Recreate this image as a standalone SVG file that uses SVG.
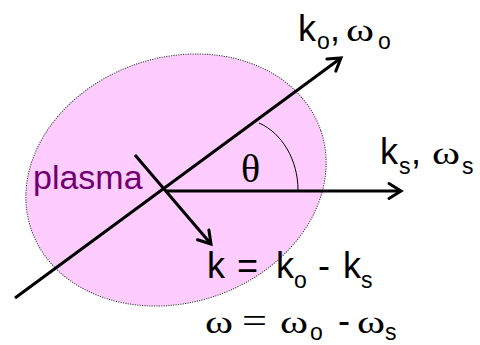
<svg xmlns="http://www.w3.org/2000/svg" width="480" height="345" viewBox="0 0 480 345">
<defs>
<marker id="arr" markerUnits="userSpaceOnUse" viewBox="-16 -10 20 20" markerWidth="20" markerHeight="20" refX="0" refY="0" orient="auto">
<path d="M-12,-7.5 L0,0 L-12,7.5" fill="none" stroke="#000" stroke-width="3" stroke-linecap="round" stroke-linejoin="miter"/>
</marker>
<style>
.sans{font-family:"Liberation Sans",Arial,sans-serif;fill:#000}
.ser{font-family:"Liberation Serif","Times New Roman",serif;fill:#000}
.big{font-size:36px}
.w{font-size:31px}
.sub{font-size:23px}
.ln{stroke:#000;stroke-width:3;fill:none}
</style>
</defs>
<rect width="480" height="345" fill="#fff"/>
<g id="plasma">
<ellipse cx="176" cy="180" rx="153" ry="122.5" transform="rotate(-18.8 176 180)" fill="#FFCCFF" stroke="#333" stroke-width="1" stroke-dasharray="1.2 1.2"/>
<text x="33" y="189" font-family="Liberation Sans, Arial, sans-serif" font-size="34" fill="#700070">plasma</text>
</g>
<g id="connectors">
<line class="ln" x1="15" y1="298" x2="341" y2="58" marker-end="url(#arr)"/>
<line class="ln" x1="165" y1="191" x2="401" y2="191" marker-end="url(#arr)"/>
<line class="ln" x1="135" y1="155" x2="211" y2="244" marker-end="url(#arr)"/>
<path d="M259,123 C282,133 298,160 298,190" fill="none" stroke="#000" stroke-width="1"/>
</g>
<g id="theta">
<text class="ser" x="241" y="182" font-size="40">θ</text>
</g>
<g id="label-ko">
<text class="sans big" x="298" y="41">k</text>
<text class="sans sub" x="317" y="49">o</text>
<text class="sans big" x="330" y="41">,</text>
<text class="ser w" x="346" y="41" textLength="28" lengthAdjust="spacingAndGlyphs">ω</text>
<text class="sans sub" x="378" y="49">o</text>
</g>
<g id="label-ks">
<text class="sans big" x="380" y="164">k</text>
<text class="sans sub" x="399" y="174">s</text>
<text class="sans big" x="411" y="164">,</text>
<text class="ser w" x="432" y="164" textLength="28" lengthAdjust="spacingAndGlyphs">ω</text>
<text class="sans sub" x="462" y="174">s</text>
</g>
<g id="label-k">
<text class="sans big" x="207" y="278">k</text>
<text class="sans big" x="237" y="278">=</text>
<text class="sans big" x="276" y="278">k</text>
<text class="sans sub" x="294" y="288">o</text>
<text class="sans big" x="318" y="278">-</text>
<text class="sans big" x="343" y="278">k</text>
<text class="sans sub" x="361" y="288">s</text>
</g>
<g id="label-w">
<text class="ser w" x="205" y="333" textLength="28" lengthAdjust="spacingAndGlyphs">ω</text>
<text class="ser big" x="242" y="333" textLength="25" lengthAdjust="spacingAndGlyphs">=</text>
<text class="ser w" x="280" y="333" textLength="28" lengthAdjust="spacingAndGlyphs">ω</text>
<text class="sans sub" x="310" y="340">o</text>
<text class="sans big" x="338" y="333">-</text>
<text class="ser w" x="357" y="333" textLength="28" lengthAdjust="spacingAndGlyphs">ω</text>
<text class="sans sub" x="385" y="340">s</text>
</g>
</svg>
